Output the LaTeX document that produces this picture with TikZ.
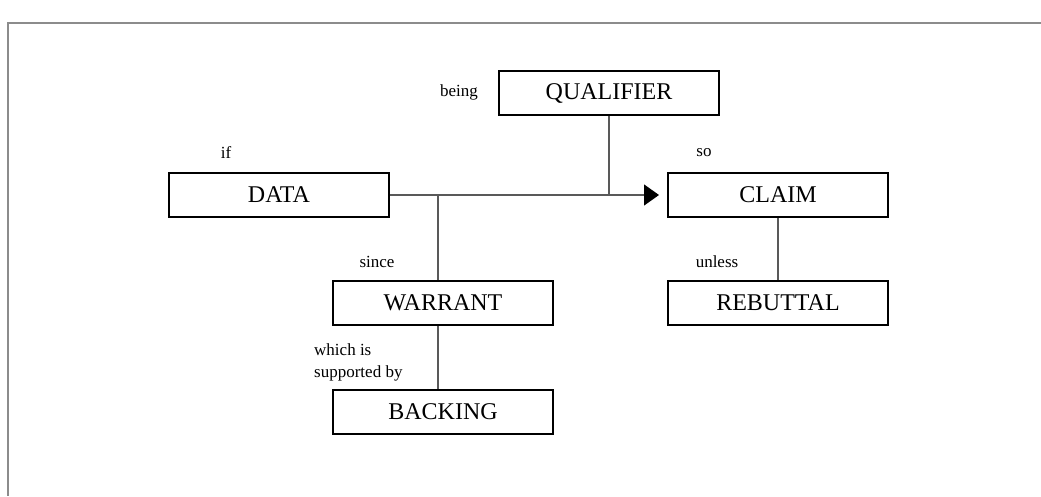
\documentclass[tikz,border=0pt]{standalone}
\usepackage{fontspec}
\setmainfont{Liberation Serif}
\usetikzlibrary{arrows.meta}
\tikzset{
  box/.style={draw=black, line width=2pt, minimum width=220pt, minimum height=44pt,
              inner sep=0pt, font=\fontsize{24}{28}\selectfont},
  link/.style={draw=black!65, line width=1.2pt},
  cue/.style={font=\fontsize{17}{20}\selectfont, inner sep=0pt},
  head/.style={-{Triangle[length=15pt,width=21pt,color=black,fill=black]}},
}
\begin{document}
\begin{tikzpicture}[x=1pt, y=-1pt]
  \useasboundingbox (0,0) rectangle (1041,496);
  \fill[white] (0,0) rectangle (1041,496);
  % page frame
  \draw[black!45, line width=1.5pt] (1041,23) -- (8,23) -- (8,496);

  % elements of the argument
  \node[box] (qualifier) at (609,93)  {QUALIFIER};
  \node[box] (data)      at (279,195) {DATA};
  \node[box] (claim)     at (778,195) {CLAIM};
  \node[box] (warrant)   at (443,303) {WARRANT};
  \node[box] (rebuttal)  at (778,303) {REBUTTAL};
  \node[box] (backing)   at (443,412) {BACKING};

  % connective words
  \node[cue] (being)  at (459,92)  {being};
  \node[cue] (if)     at (226,153) {if};
  \node[cue] (so)     at (704,153) {so};
  \node[cue] (since)  at (377,262) {since};
  \node[cue] (unless) at (717,262) {unless};
  \node[cue, align=left, anchor=west] (support) at (314,362) {which is\\[2pt]supported by};

  % junction of the warrant on the main line
  \coordinate (wj) at (438,195);

  % data -> claim
  \draw[link, head, shorten >=8pt] (data.east) -- (claim.west);
  % qualifier drops onto the main line
  \draw[link] (qualifier.south) -- (qualifier.south |- claim.west);
  % warrant and backing
  \draw[link] (wj) -- (wj |- warrant.north);
  \draw[link] (wj |- warrant.south) -- (wj |- backing.north);
  % rebuttal
  \draw[link] (claim.south) -- (rebuttal.north);
\end{tikzpicture}
\end{document}
